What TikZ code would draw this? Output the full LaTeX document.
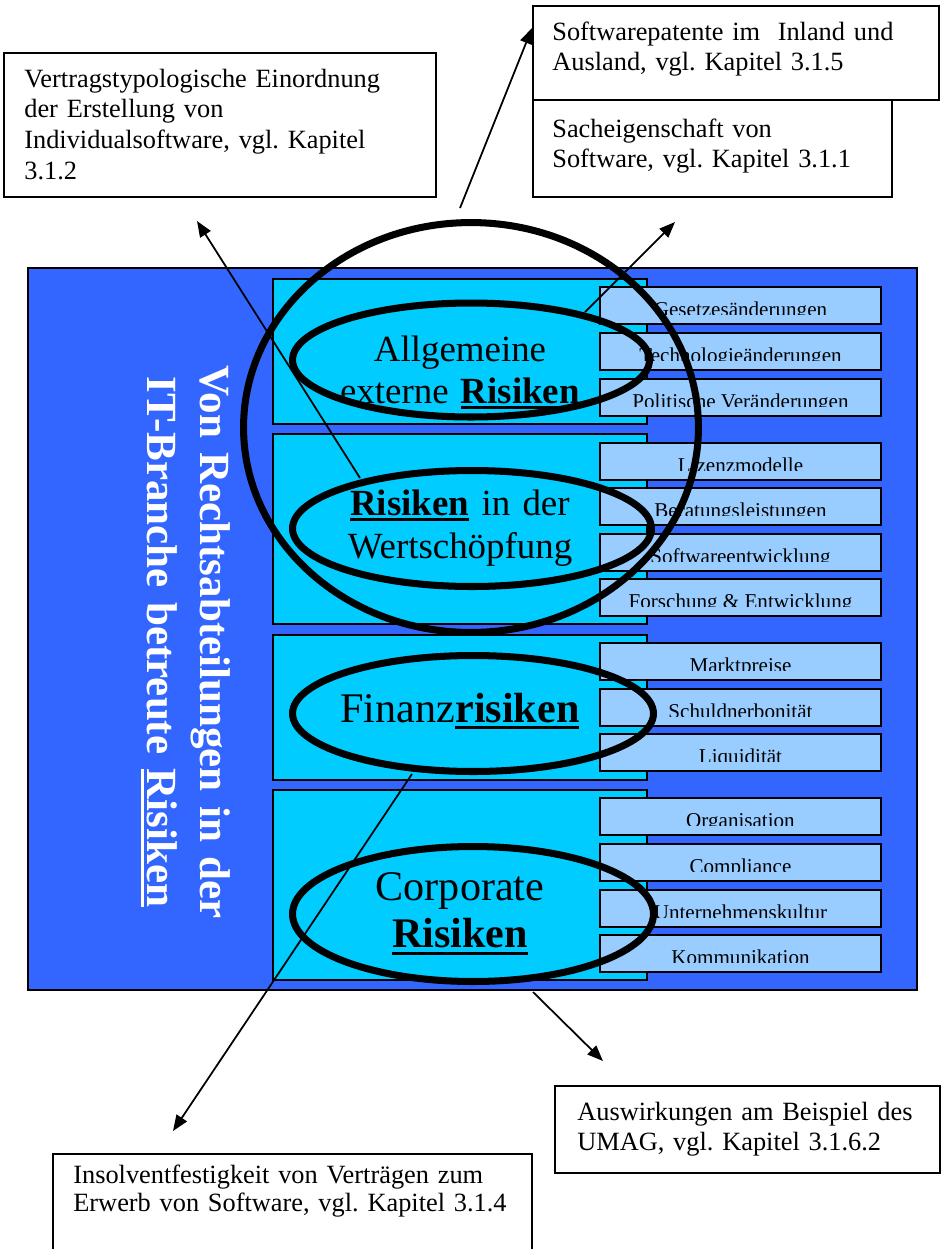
\documentclass[tikz,border=0pt]{standalone}
\usepackage{fontspec}
\setmainfont{Liberation Serif}
\usetikzlibrary{arrows.meta,shapes.geometric}
\definecolor{panelblue}{RGB}{51,102,255}
\definecolor{bandcyan}{RGB}{0,204,255}
\definecolor{itemblue}{RGB}{153,204,255}
\frenchspacing
% thick underline used for the emphasised words
\newcommand{\myul}[1]{\leavevmode\setbox0=\hbox{#1}\rlap{\rule[-0.17em]{\wd0}{0.085em}}\box0\relax}
% one risk factor: light box with its label, clipped near the bottom edge
\newcommand{\factorbox}[3]{%
  \node[itembox] (#1) at (600,#2) {};
  \begin{scope}
    \clip (600,#2) rectangle (881,#2+27);
    \node[itemtext] (#1t) at (740.5,#2+29) {#3};
  \end{scope}}
\begin{document}
\begin{tikzpicture}[x=0.02cm,y=-0.02cm,
  panel/.style={draw=black, line width=1.1pt, fill=panelblue, inner sep=0pt, outer sep=0pt, anchor=north west},
  band/.style={draw=black, line width=0.9pt, fill=bandcyan, inner sep=0pt, outer sep=0pt, anchor=north west, minimum width=7.48cm},
  itembox/.style={draw=black, line width=1.1pt, fill=itemblue, inner sep=0pt, outer sep=0pt, anchor=north west, minimum width=5.62cm, minimum height=0.74cm},
  itemtext/.style={font=\fontsize{12}{14}\selectfont, inner sep=0pt, anchor=base},
  ring/.style={ellipse, draw=black, line width=4pt, inner sep=0pt, outer sep=0pt},
  bandtext/.style={align=center, text width=7.48cm, inner sep=0pt, anchor=base},
  note/.style={draw=black, line width=1.1pt, fill=white, inner sep=0pt, outer sep=0pt, anchor=north west},
  notetext/.style={font=\fontsize{15}{17.5}\selectfont, align=left, text width=9cm, inner sep=0pt, anchor=base west},
  conn/.style={line width=1pt, -{Triangle[length=9pt,width=7pt]}}]
\useasboundingbox (0,0) rectangle (942,1249);
\begin{scope}
\clip (0,0) rectangle (942,1249);

% main panel and the four risk groups
\node[panel, minimum width=17.78cm, minimum height=14.44cm] (panel) at (28,268) {};
\node[band, minimum height=2.90cm] (band1) at (273,279) {};
\node[band, minimum height=3.80cm] (band2) at (273,434) {};
\node[band, minimum height=2.90cm] (band3) at (273,635) {};
\node[band, minimum height=3.80cm] (band4) at (273,790) {};

% risk factors
\factorbox{g1}{287}{Gesetzesänderungen}
\factorbox{g2}{333}{Technologieänderungen}
\factorbox{g3}{379}{Politische Veränderungen}
\factorbox{w1}{443}{Lizenzmodelle}
\factorbox{w2}{488}{Beratungsleistungen}
\factorbox{w3}{534}{Softwareentwicklung}
\factorbox{w4}{579}{Forschung \& Entwicklung}
\factorbox{f1}{643}{Marktpreise}
\factorbox{f2}{689}{Schuldnerbonität}
\factorbox{f3}{734}{Liquidität}
\factorbox{c1}{798}{Organisation}
\factorbox{c2}{844}{Compliance}
\factorbox{c3}{890}{Unternehmenskultur}
\factorbox{c4}{935}{Kommunikation}

% group titles
\node[bandtext, font=\fontsize{21}{23.9}\selectfont] (t1) at (460,361)
  {Allgemeine\\externe \myul{\textbf{Risiken}}};
\node[bandtext, font=\fontsize{21}{24.5}\selectfont] (t2) at (460,515)
  {\myul{\textbf{Risiken}} in der\\Wertschöpfung};
\node[bandtext, font=\fontsize{24}{27.3}\selectfont] (t3) at (460,722)
  {Finanz\myul{\textbf{risiken}}};
\node[bandtext, font=\fontsize{24}{27.3}\selectfont] (t4) at (460,900)
  {Corporate\\\myul{\textbf{Risiken}}};

% rings around the groups
\node[ring, minimum width=7.14cm, minimum height=2.28cm] (e1) at (471,360) {};
\node[ring, minimum width=7.18cm, minimum height=2.32cm] (e2) at (472,528.5) {};
\node[ring, minimum width=7.22cm, minimum height=2.32cm] (e3) at (473,713.5) {};
\node[ring, minimum width=7.22cm, minimum height=2.70cm] (e4) at (473,914) {};
\node[ring, minimum width=9.10cm, minimum height=8.20cm] (big) at (471,427.5) {};

% vertical panel title
\node[rotate=-90, font=\fontsize{24.5}{29.6}\selectfont\bfseries, text=white,
      align=center, text width=12cm, inner sep=0pt, anchor=base] (title) at (200,642)
  {Von Rechtsabteilungen in der\\IT-Branche betreute \myul{Risiken}};

% connectors to the chapter notes
\coordinate (a1s) at (360,478);  \coordinate (a1e) at (197,221);
\coordinate (a2s) at (460,208);  \coordinate (a2e) at (532,28);
\coordinate (a3s) at (585,312);  \coordinate (a3e) at (675,222);
\coordinate (a4s) at (412,774);  \coordinate (a4e) at (173,1131);
\coordinate (a5s) at (533,992);  \coordinate (a5e) at (603,1061);
\draw[conn] (a1s) -- (a1e);
\draw[conn] (a2s) -- (a2e);
\draw[conn] (a3s) -- (a3e);
\draw[conn] (a4s) -- (a4e);
\draw[conn] (a5s) -- (a5e);

% chapter notes
\node[note, minimum width=8.64cm, minimum height=2.88cm] (nA) at (4,53) {};
\node[notetext] (nAt) at (24,87)
  {Vertragstypologische Einordnung\\der Erstellung von\\Individualsoftware, vgl. Kapitel\\3.1.2};
\node[note, minimum width=7.18cm, minimum height=1.94cm] (nC) at (533,100) {};
\node[notetext] (nCt) at (552,137) {Sacheigenschaft von\\Software, vgl. Kapitel 3.1.1};
\node[note, minimum width=8.12cm, minimum height=1.88cm] (nB) at (533,6) {};
\node[notetext] (nBt) at (552,40) {Softwarepatente im\ \ Inland und\\Ausland, vgl. Kapitel 3.1.5};
\node[note, minimum width=7.70cm, minimum height=1.74cm] (nD) at (555,1086) {};
\node[notetext] (nDt) at (577,1120) {Auswirkungen am Beispiel des\\UMAG, vgl. Kapitel 3.1.6.2};
\node[note, minimum width=9.58cm, minimum height=2.60cm] (nE) at (53,1154) {};
\node[notetext, font=\fontsize{15}{16}\selectfont] (nEt) at (73,1183)
  {Insolventfestigkeit von Verträgen zum\\Erwerb von Software, vgl. Kapitel 3.1.4};
\end{scope}
\end{tikzpicture}
\end{document}
